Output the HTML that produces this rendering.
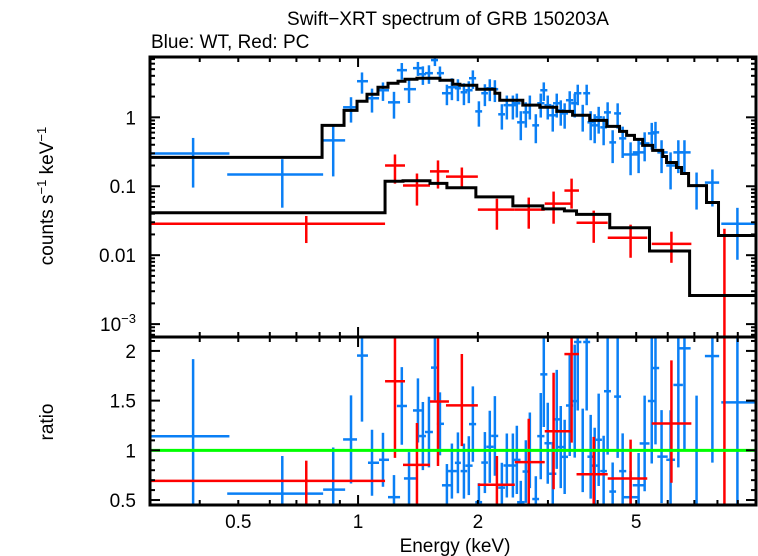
<!DOCTYPE html>
<html><head><meta charset="utf-8">
<style>
html,body{margin:0;padding:0;background:#fff;}
svg{display:block;font-family:"Liberation Sans",sans-serif;}
</style></head>
<body>
<svg id="chart" width="758" height="556" viewBox="0 0 758 556" xmlns="http://www.w3.org/2000/svg">
<text x="448" y="25" font-size="19" text-anchor="middle">Swift−XRT spectrum of GRB 150203A</text>
<text x="151" y="48" font-size="19">Blue: WT, Red: PC</text>
<text transform="translate(53,196) rotate(-90)" font-size="19" text-anchor="middle">counts s<tspan font-size="13" dy="-7">−1</tspan><tspan dy="7"> keV</tspan><tspan font-size="13" dy="-7">−1</tspan></text>
<text transform="translate(53,422) rotate(-90)" font-size="19" text-anchor="middle">ratio</text>
<text x="455" y="552" font-size="19" text-anchor="middle">Energy (keV)</text>
<g id="plots"></g>
</svg>
<script>
// ---- data ----
const xTickLabels = ["0.5","1","2","5"];
const xTickValues = [0.5,1,2,5];
const yTopTickValues = [0.001,0.01,0.1,1];
const yTopTickLabels = ["10^-3","0.01","0.1","1"];
const ratioTickValues = [0.5,1,1.5,2];
const ratioTickLabels = ["0.5","1","1.5","2"];

const blueLo = [0.30,0.469,0.817,0.917,0.994,1.059,1.129,1.189,1.252,1.304,1.374,1.422,1.473,1.525,1.578,1.625,1.683,1.751,
1.81,1.86,1.90,1.97,2.04,2.10,2.16,2.25,2.32,2.40,2.46,2.51,2.59,2.65,2.74,2.82,2.87,2.94,3.02,3.09,3.17,3.24,3.33,3.43,3.49,3.60,3.68,3.77,3.85,3.94,4.06,4.15,4.28,4.40,4.53,4.62,4.90,5.10,5.35,5.47,5.65,5.95,6.2,6.40,6.89,7.44,8.18];
const blueHi = [0.475,0.817,0.928,0.994,1.059,1.129,1.196,1.275,1.327,1.398,1.447,1.481,1.542,1.588,1.644,1.721,1.771,1.813,
1.88,1.94,1.98,2.05,2.12,2.19,2.25,2.34,2.41,2.50,2.56,2.62,2.69,2.76,2.85,2.94,2.99,3.06,3.15,3.22,3.30,3.37,3.47,3.57,3.64,3.74,3.83,3.92,4.01,4.10,4.22,4.32,4.45,4.58,4.72,5.05,5.25,5.40,5.59,5.71,6.0,6.26,6.55,6.85,7.44,8.08,9.97];
const blueE = [0.385,0.645,0.866,0.960,1.023,1.084,1.155,1.231,1.288,1.343,1.414,1.455,1.507,1.560,1.606,1.672,1.721,1.782,
1.845,1.898,1.943,2.012,2.083,2.143,2.207,2.298,2.365,2.449,2.506,2.564,2.640,2.702,2.797,2.878,2.929,2.997,3.085,3.157,3.231,3.305,3.403,3.503,3.565,3.669,3.754,3.842,3.932,4.024,4.141,4.238,4.363,4.491,4.623,4.84,5.07,5.25,5.47,5.59,5.79,6.10,6.38,6.61,7.09,7.77,8.98];
const blueV = [0.299,0.148,0.463,1.398,3.34,1.89,2.47,1.65,4.83,2.56,5.17,4.22,4.37,6.76,4.37,2.236,2.73,2.64,
2.31,2.47,3.69,1.22,2.236,2.64,2.56,1.106,1.50,1.50,1.60,0.846,1.18,1.50,0.765,1.60,2.47,1.50,1.07,1.60,
1.26,1.14,1.77,1.60,2.236,1.07,2.236,0.846,0.765,1.0,0.715,1.18,0.433,1.14,0.495,0.289,0.310,0.418,0.585,0.605,
0.310,0.2,0.310,0.310,0.102,0.113,0.0286];
const blueRelErr = [0.68,0.67,0.7,0.4,0.34,0.38,0.3,0.42,0.27,0.37,0.23,0.3,0.3,0.18,0.25,0.33,0.35,0.35,
0.35,0.35,0.3,0.4,0.35,0.35,0.35,0.4,0.38,0.38,0.38,0.45,0.4,0.38,0.45,0.38,0.3,0.38,0.42,0.38,
0.4,0.4,0.35,0.38,0.33,0.42,0.33,0.45,0.45,0.42,0.45,0.4,0.5,0.4,0.48,0.5,0.5,0.45,0.42,0.42,
0.5,0.55,0.5,0.5,0.55,0.55,0.7];

const redLo = [0.30,1.169,1.297,1.516,1.663,2.0,2.477,2.945,3.30,3.54,4.24,5.47,7.9];
const redHi = [1.169,1.312,1.516,1.692,2.0,2.477,2.945,3.44,3.59,4.24,5.33,6.88,8.8];
const redE  = [0.741,1.238,1.406,1.588,1.823,2.233,2.685,3.10,3.44,3.91,4.84,6.13,8.33];
const redV  = [0.0286,0.20,0.1025,0.164,0.138,0.0458,0.0458,0.056,0.0866,0.0296,0.0179,0.0146,0.0003];
const redErrLo = [0.015,0.109,0.0524,0.0926,0.099,0.0234,0.0242,0.0286,0.0474,0.0151,0.00917,0.00775,0.0];
const redErrHi = [0.037,0.289,0.153,0.237,0.187,0.066,0.0685,0.0837,0.129,0.0443,0.0277,0.0219,0.0242];

const blueModelEdges = [0.3,0.812,0.922,0.994,1.053,1.122,1.189,1.260,1.312,1.406,1.516,1.606,1.730,1.803,1.988,2.207,2.27,2.594,2.862,3.157,3.46,3.82,4.215,4.54,4.73,4.95,5.19,5.50,5.83,5.96,6.31,6.50,6.77,7.51,8.05,10];
const blueModelVals = [0.262,0.765,1.26,1.71,2.16,2.73,3.12,3.34,3.57,3.69,3.69,3.45,3.02,2.92,2.55,2.236,1.77,1.50,1.40,1.22,1.07,0.904,0.74,0.626,0.547,0.478,0.391,0.331,0.27,0.221,0.187,0.153,0.102,0.058,0.0193];
const redModelEdges = [0.3,1.169,1.297,1.516,1.672,1.977,2.449,2.912,3.30,3.54,4.29,5.40,6.81,10];
const redModelVals = [0.0413,0.118,0.12,0.11,0.095,0.07,0.052,0.047,0.044,0.039,0.025,0.0115,0.0026];

// ---- layout ----
const L=150, R=756, T=57, M=337, B=505;
const X_MIN=0.3, X_MAX=10;
const Y_MIN=6.5e-4, Y_MAX=7.5;
const R_MIN=0.45, R_MAX=2.14;
const BLUE="#0a7ff5", RED="#ff0000";
const NS="http://www.w3.org/2000/svg";
const plotRoot=document.getElementById('plots');

function xs(e){return L+(R-L)*(Math.log10(e)-Math.log10(X_MIN))/(Math.log10(X_MAX)-Math.log10(X_MIN));}
function ys(v){return M-(M-T)*(Math.log10(v)-Math.log10(Y_MIN))/(Math.log10(Y_MAX)-Math.log10(Y_MIN));}
function yr(v){return B-(B-M)*(v-R_MIN)/(R_MAX-R_MIN);}

function mk(tag,attrs,parent){const el=document.createElementNS(NS,tag);for(const k in attrs)el.setAttribute(k,attrs[k]);(parent||plotRoot).appendChild(el);return el;}

const defs=mk('defs',{});
const c1=mk('clipPath',{id:'clipTop'},defs);mk('rect',{x:L,y:T,width:R-L,height:M-T},c1);
const c2=mk('clipPath',{id:'clipBot'},defs);mk('rect',{x:L,y:M,width:R-L,height:B-M},c2);

const topPanel=mk('g',{'clip-path':'url(#clipTop)'});


const botPanel=mk('g',{'clip-path':'url(#clipBot)'});



function modelAt(edges,vals,e){for(let i=0;i<vals.length;i++){if(e>=edges[i]&&e<edges[i+1])return vals[i];}return vals[vals.length-1];}

function stepPath(edges,vals){let d='M'+xs(edges[0])+','+ys(vals[0]);for(let i=0;i<vals.length;i++){d+=' L'+xs(edges[i+1])+','+ys(vals[i]);if(i+1<vals.length)d+=' L'+xs(edges[i+1])+','+ys(vals[i+1]);}return d;}

function cross(parent,x1,x2,xc,y,y1,y2,color,name){
  const grp=mk('g',{},parent);
  
  
  mk('line',{x1:x1,x2:x2,y1:y,y2:y,stroke:color,'stroke-width':2.5},grp);
  mk('line',{x1:xc,x2:xc,y1:y1,y2:y2,stroke:color,'stroke-width':2.5},grp);
}

for(let i=0;i<blueE.length;i++){
  const v=blueV[i], s=v*blueRelErr[i];
  cross(topPanel,xs(blueLo[i]),xs(blueHi[i]),xs(blueE[i]),ys(v),ys(v+s),ys(Math.max(v-s,1e-6)),BLUE,'wt-data-point');
}
for(let i=0;i<redE.length;i++){
  cross(topPanel,xs(redLo[i]),xs(redHi[i]),xs(redE[i]),ys(redV[i]),ys(redErrHi[i]),ys(Math.max(redErrLo[i],1e-6)),RED,'pc-data-point');
}
const bm=mk('path',{d:stepPath(blueModelEdges,blueModelVals),fill:'none',stroke:'#000','stroke-width':3},topPanel);


const rm=mk('path',{d:stepPath(redModelEdges,redModelVals),fill:'none',stroke:'#000','stroke-width':3},topPanel);



for(let i=0;i<blueE.length;i++){
  const m=modelAt(blueModelEdges,blueModelVals,blueE[i]);
  const r=blueV[i]/m, s=blueV[i]*blueRelErr[i]/m;
  cross(botPanel,xs(blueLo[i]),xs(blueHi[i]),xs(blueE[i]),yr(r),yr(r+s),yr(r-s),BLUE,'wt-ratio-point');
}
for(let i=0;i<redE.length;i++){
  const m=modelAt(redModelEdges,redModelVals,redE[i]);
  cross(botPanel,xs(redLo[i]),xs(redHi[i]),xs(redE[i]),yr(redV[i]/m),yr(redErrHi[i]/m),yr(redErrLo[i]/m),RED,'pc-ratio-point');
}
const gl=mk('line',{x1:L,x2:R,y1:yr(1),y2:yr(1),stroke:'#00ff00','stroke-width':3},botPanel);



const ticks=mk('g',{stroke:'#000','stroke-width':2});


function tk(x1,y1,x2,y2){mk('line',{x1:x1,y1:y1,x2:x2,y2:y2},ticks);}
for(let d=0.1;d<=10;d*=10){for(let k=1;k<10;k++){const e=+(d*k).toFixed(6);if(e<X_MIN||e>X_MAX)continue;const x=xs(e);const len=(k===1)?10:5;
  tk(x,T,x,T+len);tk(x,M,x,M-len);tk(x,M,x,M+len);tk(x,B,x,B-len);}}
for(let d=1e-4;d<=10;d*=10){for(let k=1;k<10;k++){const v=d*k;if(v<Y_MIN||v>Y_MAX)continue;const y=ys(v);const len=(k===1)?10:5;tk(L,y,L+len,y);tk(R,y,R-len,y);}}
for(let i=5;i<=21;i++){const v=i/10;const y=yr(v);const len=(i%5===0)?10:5;tk(L,y,L+len,y);tk(R,y,R-len,y);}

const fr=mk('g',{fill:'none',stroke:'#000','stroke-width':3});


mk('rect',{x:L,y:T,width:R-L,height:M-T},fr);
mk('rect',{x:L,y:M,width:R-L,height:B-M},fr);

const lab=mk('g',{'font-size':19,fill:'#000'});
for(let i=0;i<xTickValues.length;i++){
  const t=mk('text',{x:xs(xTickValues[i]),y:B+23,'text-anchor':'middle'},lab);
  
  
  t.textContent=xTickLabels[i];
}
for(let i=0;i<yTopTickValues.length;i++){
  const t=mk('text',{x:L-14,y:ys(yTopTickValues[i])+7,'text-anchor':'end'},lab);
  
  
  const lbl=yTopTickLabels[i];
  if(lbl.indexOf('^')>=0){const p=lbl.split('^');t.textContent=p[0];const s=mk('tspan',{'font-size':13,dy:-8},t);s.textContent=p[1].replace('-','−');}
  else t.textContent=lbl;
}
for(let i=0;i<ratioTickValues.length;i++){
  const t=mk('text',{x:L-14,y:yr(ratioTickValues[i])+7,'text-anchor':'end'},lab);
  
  
  t.textContent=ratioTickLabels[i];
}
</script>
</body></html>
